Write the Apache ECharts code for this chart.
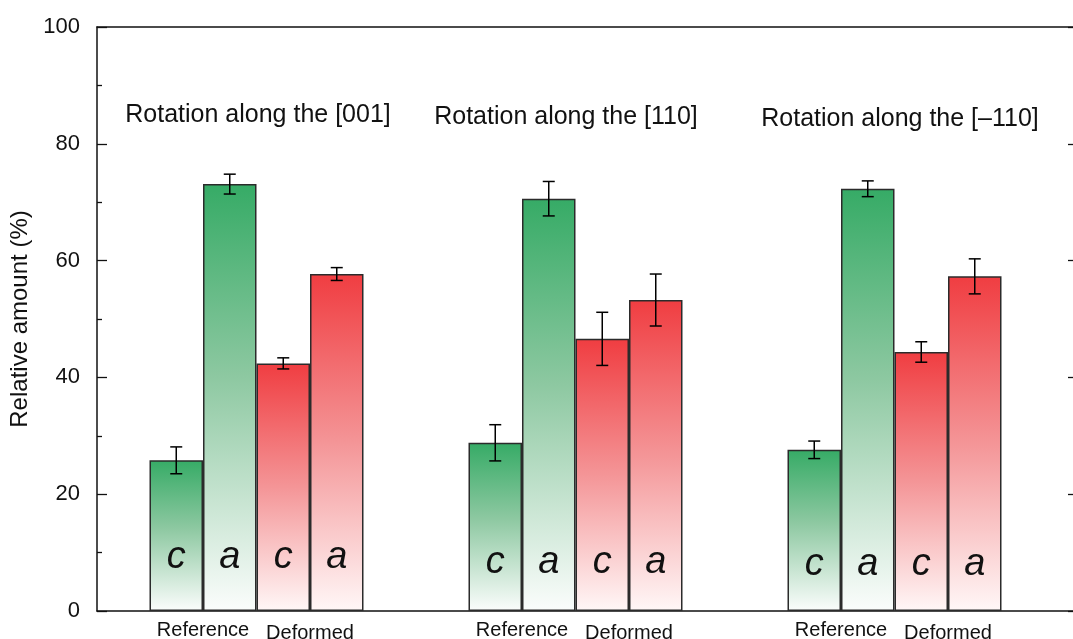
<!DOCTYPE html>
<html>
<head>
<meta charset="utf-8">
<script src="https://cdn.jsdelivr.net/npm/echarts@6/dist/echarts.min.js"></script>
<style>html,body{margin:0;padding:0;background:#fff;}#chart{width:1073px;height:639px;}</style>
</head>
<body>
<div id="chart"></div>
<script>
// ---- data ----
const groups = ['Rotation along the [001]', 'Rotation along the [110]', 'Rotation along the [\u2013110]'];
const seriesNames = ['Reference c', 'Reference a', 'Deformed c', 'Deformed a'];
const seriesLetters = ['c', 'a', 'c', 'a'];
const refC = [25.8, 28.8, 27.6];
const refCErr = [2.3, 3.1, 1.5];
const refA = [73.1, 70.6, 72.3];
const refAErr = [1.7, 2.95, 1.35];
const defC = [42.4, 46.6, 44.35];
const defCErr = [0.95, 4.55, 1.75];
const defA = [57.7, 53.25, 57.3];
const defAErr = [1.1, 4.45, 3.0];
const yTicks = [0, 20, 40, 60, 80, 100];

// ---- layout / style ----
const FONT = "'Liberation Sans', Arial, sans-serif";
const BAR_W = 53.5;
const letterDist = [35, 30, 28];
const titlePos = [[258, 115.5], [566, 117.5], [900, 119]];

const values = [refC, refA, defC, defA];
const errs = [refCErr, refAErr, defCErr, defAErr];

const greenGrad = new echarts.graphic.LinearGradient(0, 0, 0, 1, [
  {offset: 0, color: '#36ab66'},
  {offset: 0.45, color: '#8dc8a1'},
  {offset: 1, color: '#fbfdfc'}
]);
const redGrad = new echarts.graphic.LinearGradient(0, 0, 0, 1, [
  {offset: 0, color: '#f03d41'},
  {offset: 0.5, color: '#f49597'},
  {offset: 1, color: '#fff7f7'}
]);
const fills = [greenGrad, greenGrad, redGrad, redGrad];

const barSeries = values.map((arr, k) => ({
  name: seriesNames[k],
  type: 'bar',
  xAxisIndex: 0, yAxisIndex: 0,
  barWidth: BAR_W,
  barGap: '0%',
  itemStyle: {color: fills[k], borderColor: '#2b2b2b', borderWidth: 1.5},
  label: {
    show: true, position: 'insideBottom', formatter: seriesLetters[k],
    fontFamily: FONT, fontSize: 38, fontStyle: 'italic', color: '#111'
  },
  data: arr.map((v, i) => ({value: v, label: {distance: letterDist[i]}})),
  z: 2
}));

const errData = [];
values.forEach((arr, k) => arr.forEach((v, i) => {
  errData.push([i, v - errs[k][i], v + errs[k][i], k]);
}));

const errSeries = {
  type: 'custom',
  xAxisIndex: 0, yAxisIndex: 0,
  z: 5,
  data: errData,
  encode: {x: 0, y: [1, 2]},
  renderItem: function (params, api) {
    const cat = api.value(0), lo = api.value(1), hi = api.value(2), k = api.value(3);
    const x = api.coord([cat, 0])[0] + (k - 1.5) * BAR_W;
    const yLo = api.coord([cat, lo])[1];
    const yHi = api.coord([cat, hi])[1];
    const st = {stroke: '#000', lineWidth: 1.5};
    const cap = 6;
    return {
      type: 'group',
      children: [
        {type: 'line', shape: {x1: x, y1: yLo, x2: x, y2: yHi}, style: st},
        {type: 'line', shape: {x1: x - cap, y1: yHi, x2: x + cap, y2: yHi}, style: st},
        {type: 'line', shape: {x1: x - cap, y1: yLo, x2: x + cap, y2: yLo}, style: st}
      ]
    };
  }
};

const chart = echarts.init(document.getElementById('chart'), null, {renderer: 'canvas'});
const option = {
  animation: false,
  backgroundColor: '#fff',
  grid: [
    {left: 97, right: 19, top: 27, bottom: 28, containLabel: false, outerBoundsMode: 'none'},
    {left: 97, right: -1, top: 27, bottom: 28, containLabel: false, outerBoundsMode: 'none'}
  ],
  xAxis: [
    {
      type: 'category', gridIndex: 0, data: groups,
      axisLine: {show: false}, axisTick: {show: false},
      axisLabel: {
        margin: 7,
        formatter: function () { return '{r|Reference}{d|Deformed}'; },
        rich: {
          r: {width: BAR_W * 2, align: 'center', fontFamily: FONT, fontSize: 20, color: '#111'},
          d: {width: BAR_W * 2, align: 'center', fontFamily: FONT, fontSize: 20, color: '#111', padding: [5, 0, 0, 0]}
        }
      }
    },
    {
      type: 'value', gridIndex: 1, position: 'top', min: 0, max: 1,
      axisLine: {show: true, onZero: false, lineStyle: {color: '#111', width: 1.5}},
      axisTick: {show: false}, axisLabel: {show: false}, splitLine: {show: false}
    },
    {
      type: 'value', gridIndex: 1, position: 'bottom', min: 0, max: 1,
      axisLine: {show: true, onZero: false, lineStyle: {color: '#111', width: 1.5}},
      axisTick: {show: false}, axisLabel: {show: false}, splitLine: {show: false}
    }
  ],
  yAxis: [
    {
      type: 'value', gridIndex: 0, min: 0, max: 100, interval: 20,
      name: 'Relative amount (%)', nameLocation: 'middle', nameGap: 62,
      nameTextStyle: {fontFamily: FONT, fontSize: 24, color: '#111'},
      axisLine: {show: true, onZero: false, lineStyle: {color: '#111', width: 1.5}},
      axisTick: {show: true, inside: true, length: 10, lineStyle: {color: '#111', width: 1.3}},
      minorTick: {show: true, splitNumber: 2, length: 5, lineStyle: {color: '#111', width: 1.3}},
      axisLabel: {
        margin: 17, fontFamily: FONT, fontSize: 22, color: '#111',
        formatter: function (v) { return yTicks.indexOf(v) >= 0 ? String(v) : ''; }
      },
      splitLine: {show: false}
    },
    {
      type: 'value', gridIndex: 1, position: 'right', min: 0, max: 100, interval: 20,
      axisLine: {show: true, onZero: false, lineStyle: {color: '#111', width: 1.5}},
      axisTick: {show: true, inside: true, length: 6, lineStyle: {color: '#111', width: 1.3}},
      axisLabel: {show: false}, splitLine: {show: false}
    }
  ],
  graphic: groups.map((t, i) => ({
    type: 'text', x: titlePos[i][0], y: titlePos[i][1],
    style: {text: t, fontFamily: FONT, fontSize: 25, fill: '#111', align: 'center', verticalAlign: 'middle'}
  })),
  series: barSeries.concat([errSeries])
};
chart.setOption(option);
</script>
</body>
</html>
